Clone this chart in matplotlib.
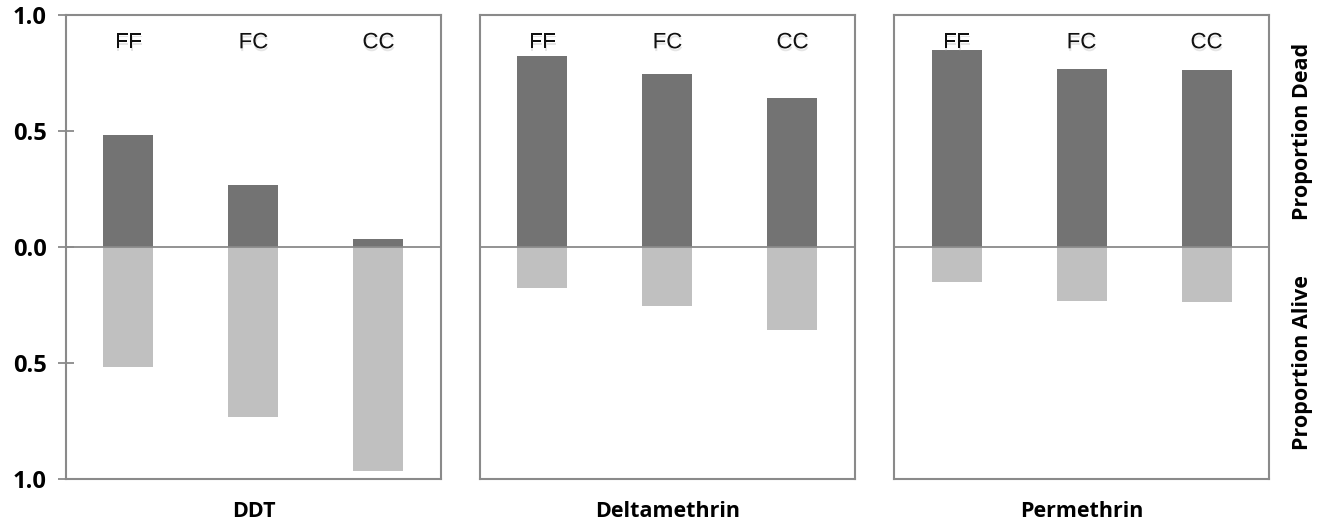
import matplotlib.pyplot as plt
import matplotlib.patheffects as pe

# data
genotypes = ['FF', 'FC', 'CC']
insecticides = ['DDT', 'Deltamethrin', 'Permethrin']
dead = [[0.483, 0.267, 0.034],
        [0.823, 0.746, 0.642],
        [0.849, 0.767, 0.763]]
alive = [[0.517, 0.733, 0.966],
         [0.177, 0.254, 0.358],
         [0.151, 0.233, 0.237]]
yticks = [-1.0, -0.5, 0.0, 0.5, 1.0]
ytick_labels = ['1.0', '0.5', '0.0', '0.5', '1.0']

dark = '#737373'
light = '#c0c0c0'
edge = '#8a8a8a'
bold_font = 'Open Sans'

fig = plt.figure(figsize=(13.19, 5.22), dpi=100)
lefts = [0.050, 0.3639, 0.6778]
axes = []
for i, name in enumerate(insecticides):
    ax = fig.add_axes([lefts[i], 0.0824, 0.2843, 0.889])
    x = list(range(len(genotypes)))
    ax.bar(x, dead[i], width=0.4, color=dark, zorder=2)
    ax.bar(x, [-v for v in alive[i]], width=0.4, color=light, zorder=2)
    ax.axhline(0, color=edge, lw=1.3, zorder=3)
    ax.set_xlim(-0.5, 2.5)
    ax.set_ylim(-1, 1)
    for s in ax.spines.values():
        s.set_color(edge)
        s.set_linewidth(1.5)
    ax.set_xticks([])
    for j, g in enumerate(genotypes):
        ax.text(j, 0.94, g, transform=ax.get_xaxis_transform(), ha='center', va='center',
                fontsize=16, family='Liberation Sans', color='#111111', zorder=4,
                path_effects=[pe.SimplePatchShadow(offset=(0.5, -2), shadow_rgbFace='#999999', alpha=0.25),
                              pe.Normal()])
    ax.text(0.5, -0.07, name, transform=ax.transAxes, ha='center', va='center',
            fontsize=15.5, fontweight='bold', family=bold_font)
    if i == 0:
        ax.set_yticks(yticks)
        ax.set_yticklabels(ytick_labels, fontsize=17, fontweight='bold', family=bold_font)
        ax.tick_params(axis='y', direction='inout', length=12, width=1.3, color=edge, pad=8)
    else:
        ax.set_yticks([])
    axes.append(ax)

axes[2].text(1.09, 0.75, 'Proportion Dead', transform=axes[2].transAxes, rotation=90,
             ha='center', va='center', fontsize=15.5, fontweight='bold', family=bold_font)
axes[2].text(1.09, 0.25, 'Proportion Alive', transform=axes[2].transAxes, rotation=90,
             ha='center', va='center', fontsize=15.5, fontweight='bold', family=bold_font)

fig.savefig('out.png', dpi=100)
